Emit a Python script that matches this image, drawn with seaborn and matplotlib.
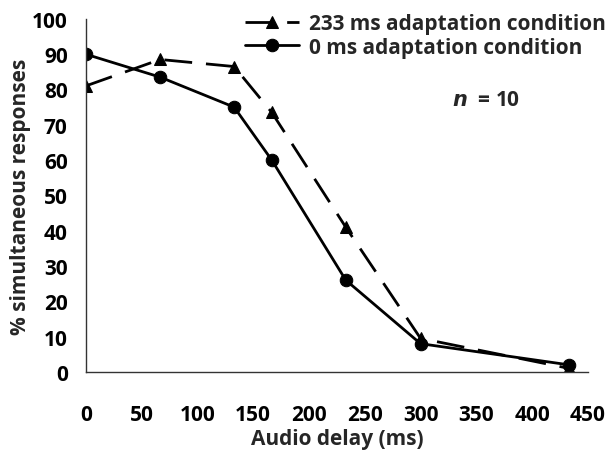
import pandas as pd
import seaborn as sb
from matplotlib import pyplot as plt

# * data
delays = [0, 66.7, 133, 166.7, 233, 300, 433]
adapt_233 = [81, 88.5, 86.5, 73.5, 41, 9.5, 1]
adapt_0 = [90, 83.5, 75, 60, 26, 8, 2]
labels = ["233 ms adaptation condition", "0 ms adaptation condition"]

sb.set_style("white")
plt.rcParams["font.family"] = ["Open Sans", "DejaVu Sans"]
plt.rcParams["font.weight"] = "bold"
FS = 15

fig = plt.figure(figsize=(6.08, 4.52), dpi=100)
ax = fig.add_axes([0.141, 0.175, 0.826, 0.781])

df = pd.DataFrame({"delay": delays, "a233": adapt_233, "a0": adapt_0})

sb.lineplot(data=df, x="delay", y="a233", ax=ax, color="black", lw=2,
            marker="^", markersize=9, markeredgecolor="black", label=labels[0])
ax.lines[-1].set_dashes([10, 5])
sb.lineplot(data=df, x="delay", y="a0", ax=ax, color="black", lw=2,
            marker="o", markersize=9, markeredgecolor="black", label=labels[1])

ax.set_xlim(0, 450)
ax.set_ylim(0, 100)
ax.set_xticks(range(0, 451, 50))
ax.set_yticks(range(0, 101, 10))
ax.tick_params(axis="x", direction="in", length=6, pad=23, labelsize=FS)
ax.tick_params(axis="y", direction="in", length=6, pad=13, labelsize=FS)
for lbl in ax.get_xticklabels() + ax.get_yticklabels():
    lbl.set_fontweight("bold")

for side in ["top", "right"]:
    ax.spines[side].set_visible(False)
for side in ["left", "bottom"]:
    ax.spines[side].set_color("#333333")
    ax.spines[side].set_linewidth(1.0)
ax.tick_params(colors="black", width=1.0)

ax.set_xlabel("Audio delay (ms)", fontsize=FS, fontweight="bold", labelpad=2)
ax.set_ylabel("% simultaneous responses", fontsize=FS, fontweight="bold", labelpad=1)

ax.text(0.797, 0.773, r"$\it{n}$  = 10", transform=ax.transAxes, ha="center",
        va="center", fontsize=FS, fontweight="bold")

leg = ax.legend(loc="upper left", bbox_to_anchor=(0.3, 1.04), frameon=False,
                fontsize=FS, handlelength=2.6, handletextpad=0.5,
                labelspacing=0.12, borderaxespad=0)
for t in leg.get_texts():
    t.set_fontweight("bold")

plt.savefig("out.png", dpi=100)
plt.close()
